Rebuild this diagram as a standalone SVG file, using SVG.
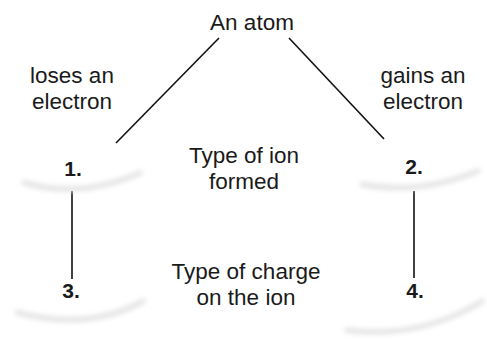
<svg xmlns="http://www.w3.org/2000/svg" width="487" height="341" viewBox="0 0 487 341">
<defs>
<filter id="blur" x="-20%" y="-50%" width="140%" height="200%"><feGaussianBlur stdDeviation="2.5"/></filter>
<style>
text{font-family:"Liberation Sans",Arial,sans-serif;font-size:22.5px;fill:#1a1a1a;text-anchor:middle}
.num{font-weight:bold;font-size:21px}
.edge{stroke:#111;stroke-width:1.6;fill:none}
.shade{fill:none;stroke:#e2e2e2;stroke-width:5;filter:url(#blur)}
</style>
</defs>
<rect width="487" height="341" fill="#fff"/>
<g id="connectors">
<line class="edge" x1="219" y1="38" x2="116" y2="143"/>
<line class="edge" x1="289" y1="38" x2="384" y2="139"/>
<line class="edge" x1="72" y1="191" x2="72" y2="279"/>
<line class="edge" x1="414" y1="191" x2="414" y2="278"/>
</g>
<g id="atom"><text x="252" y="30">An atom</text></g>
<g id="loses"><text x="72" y="83">loses an</text><text x="72" y="109">electron</text></g>
<g id="gains"><text x="423" y="83">gains an</text><text x="423" y="109">electron</text></g>
<g id="n1">
<path class="shade" d="M22 182 Q80 200 142 172"/>
<text class="num" x="73" y="176">1.</text>
</g>
<g id="ion"><text x="244" y="163">Type of ion</text><text x="244" y="189">formed</text></g>
<g id="n2">
<path class="shade" d="M360 184 Q420 196 480 170"/>
<text class="num" x="414" y="174">2.</text>
</g>
<g id="n3">
<path class="shade" d="M15 312 Q90 332 145 300"/>
<text class="num" x="71" y="298">3.</text>
</g>
<g id="charge"><text x="246" y="279">Type of charge</text><text x="246" y="305">on the ion</text></g>
<g id="n4">
<path class="shade" d="M345 330 Q420 340 484 300"/>
<text class="num" x="415" y="298">4.</text>
</g>
</svg>
